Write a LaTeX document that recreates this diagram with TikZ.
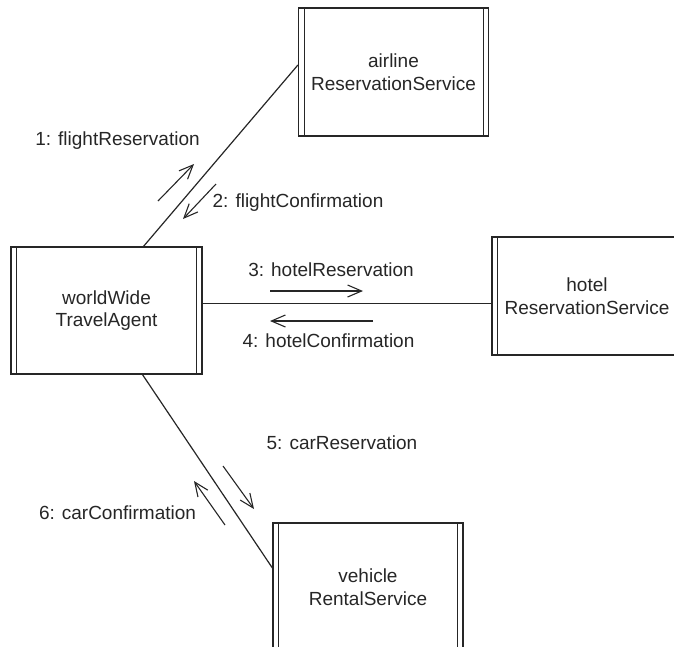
\documentclass[tikz,border=0pt]{standalone}
\usepackage{fontspec}
\setmainfont{Liberation Sans}
\usetikzlibrary{arrows.meta,calc}
\definecolor{inkgray}{HTML}{262626}

\begin{document}
\begin{tikzpicture}[x=1pt,y=-1pt]
  \tikzstyle{objbox}=[draw=inkgray, line width=1.2pt, minimum width=190pt, minimum height=128pt, align=center, text=inkgray, font=\fontsize{19}{22.5}\selectfont,
    path picture={\draw[inkgray, line width=1pt]
      ([xshift=5.5pt]path picture bounding box.north west) -- ([xshift=5.5pt]path picture bounding box.south west)
      ([xshift=-5.5pt]path picture bounding box.north east) -- ([xshift=-5.5pt]path picture bounding box.south east);}]
  \tikzstyle{msglabel}=[text=inkgray, font=\fontsize{19}{22.5}\selectfont, inner sep=0pt]
  \tikzstyle{link}=[draw=inkgray, line width=1.2pt]
  \tikzstyle{msgarrow}=[draw=inkgray, line width=1.1pt, -{Straight Barb[length=14pt,width=12pt]}]
  \useasboundingbox (0,0) rectangle (674,646);
  \clip (0,0) rectangle (674,646);
  \node[objbox, minimum width=191pt, minimum height=127pt] (agent) at (106.5,310.5) {worldWide\\TravelAgent};
  \node[objbox] (airline) at (393.5,72) {airline\\ReservationService};
  \node[objbox, minimum height=118pt] (hotel) at (587,296) {hotel\\ReservationService};
  \node[objbox] (vehicle) at (368,587) {vehicle\\RentalService};
  \draw[link] ([xshift=37pt]agent.north) -- ([yshift=7pt]airline.west);
  \draw[link] ([yshift=7pt]agent.east) -- ([yshift=-7.5pt]hotel.west);
  \draw[link] ([xshift=36pt]agent.south) -- ([yshift=19pt]vehicle.west);
  \coordinate (m1a) at (158,201);
  \coordinate (m1b) at (194,164);
  \coordinate (m2a) at (216,184);
  \coordinate (m2b) at (183,219);
  \coordinate (m3a) at (270,291);
  \coordinate (m3b) at (363,291);
  \coordinate (m4a) at (373,321);
  \coordinate (m4b) at (270,321);
  \coordinate (m5a) at (223,466);
  \coordinate (m5b) at (254,509);
  \coordinate (m6a) at (225,525);
  \coordinate (m6b) at (194,481);
  \draw[msgarrow] (m1a) -- (m1b);
  \draw[msgarrow] (m2a) -- (m2b);
  \draw[msgarrow] (m3a) -- (m3b);
  \draw[msgarrow] (m4a) -- (m4b);
  \draw[msgarrow] (m5a) -- (m5b);
  \draw[msgarrow] (m6a) -- (m6b);
  \node[msglabel] (l1) at (117.5,141) {1: flightReservation};
  \node[msglabel] (l2) at (298,203) {2: flightConfirmation};
  \node[msglabel] (l3) at (331,270) {3: hotelReservation};
  \node[msglabel] (l4) at (328.5,341) {4: hotelConfirmation};
  \node[msglabel] (l5) at (342,443) {5: carReservation};
  \node[msglabel] (l6) at (117.5,513) {6: carConfirmation};
\end{tikzpicture}
\end{document}
